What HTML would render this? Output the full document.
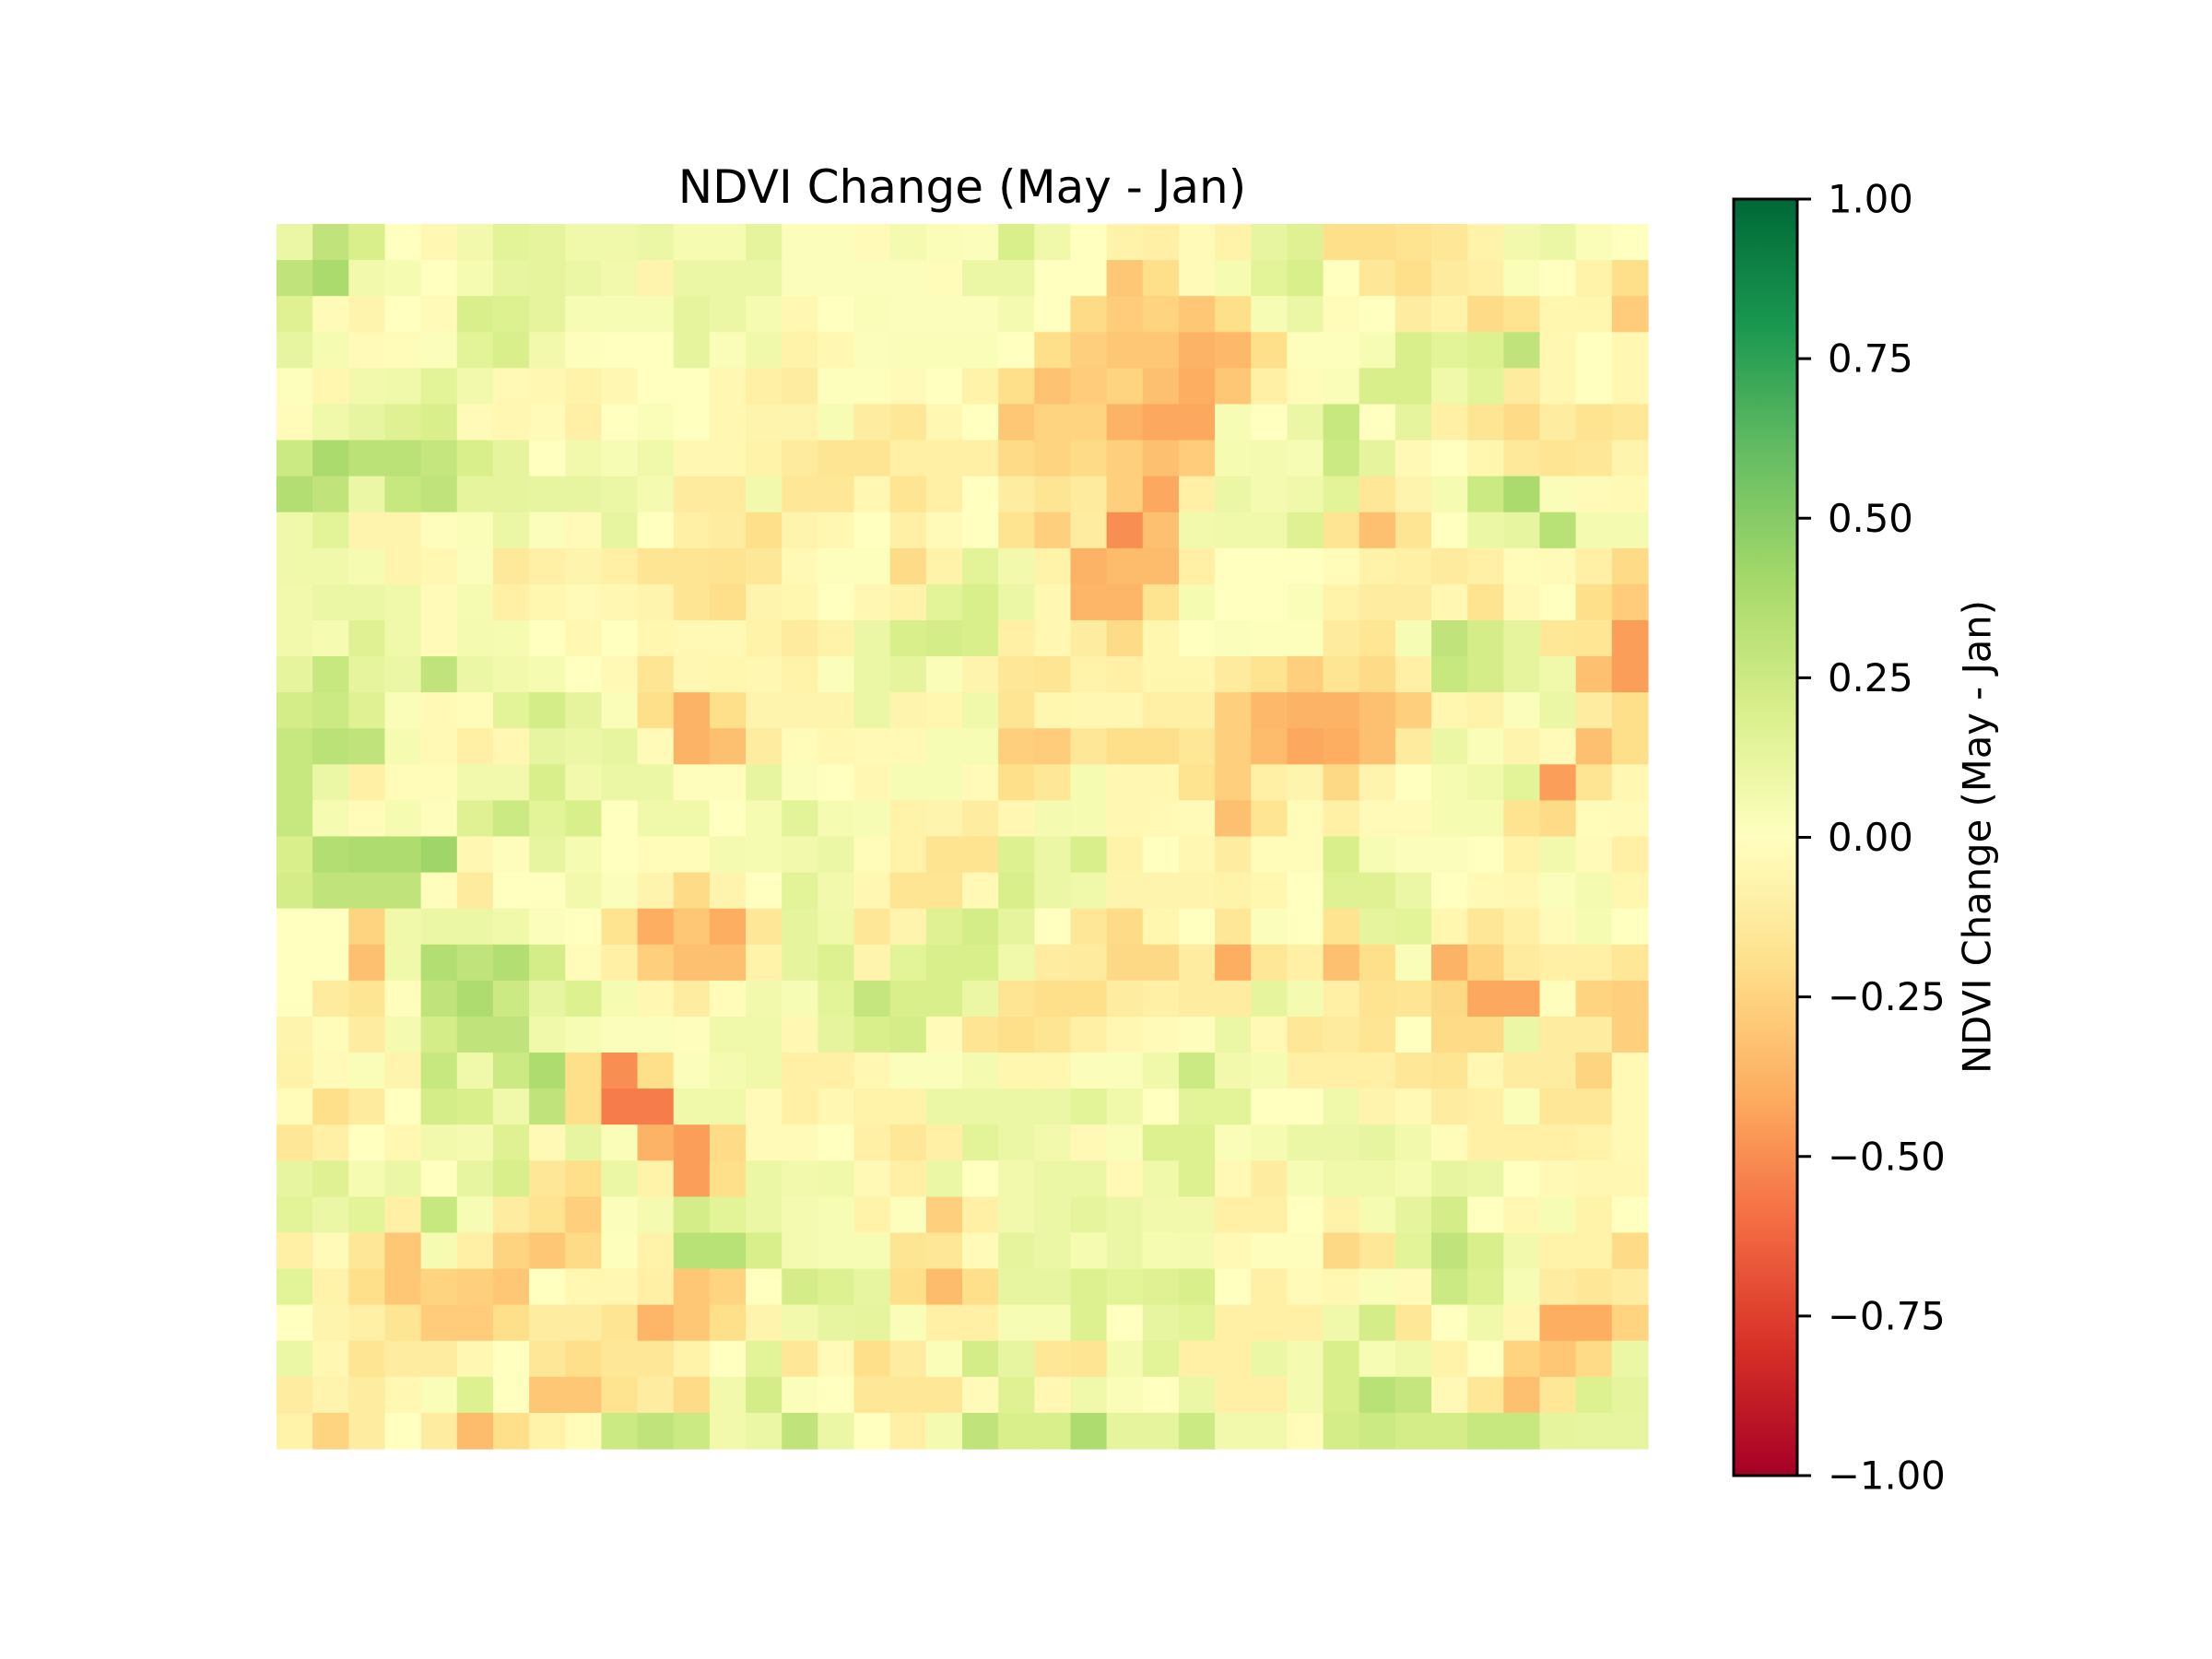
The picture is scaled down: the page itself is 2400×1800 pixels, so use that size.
<!DOCTYPE html>
<html><head><meta charset="utf-8"><style>
html,body{margin:0;padding:0;background:#fff;}
svg{display:block;font-family:"DejaVu Sans","Liberation Sans",sans-serif;}
</style></head><body>
<svg id="chart" width="2400" height="1800" viewBox="0 0 2400 1800" xmlns="http://www.w3.org/2000/svg">
<rect width="2400" height="1800" fill="#fff"/>
<text x="1044" y="220" font-size="50" text-anchor="middle" fill="#000">NDVI Change (May - Jan)</text>
<g id="heatmap"></g>
<defs>
<linearGradient id="rdylgn" x1="0" y1="1" x2="0" y2="0">
<stop offset="0" stop-color="#a50026"/><stop offset="0.1" stop-color="#d73027"/><stop offset="0.2" stop-color="#f46d43"/><stop offset="0.3" stop-color="#fdae61"/><stop offset="0.4" stop-color="#fee08b"/><stop offset="0.5" stop-color="#ffffbf"/><stop offset="0.6" stop-color="#d9ef8b"/><stop offset="0.7" stop-color="#a6d96a"/><stop offset="0.8" stop-color="#66bd63"/><stop offset="0.9" stop-color="#1a9850"/><stop offset="1" stop-color="#006837"/>
</linearGradient>
</defs>
<rect x="1881" y="216" width="69" height="1385" fill="url(#rdylgn)" stroke="#000" stroke-width="3"/>
<g id="cbticks"></g>
<text transform="translate(2145,908) rotate(-90)" font-size="41.7" text-anchor="middle" dominant-baseline="central" fill="#000">NDVI Change (May - Jan)</text>
</svg>
<script>
const tickValues = [1.0, 0.75, 0.5, 0.25, 0.0, -0.25, -0.5, -0.75, -1.0];
const tickLabels = ["1.00", "0.75", "0.50", "0.25", "0.00", "\u22120.25", "\u22120.50", "\u22120.75", "\u22121.00"];
const row00 = [0.1,0.3,0.2,0.0,-0.05,0.07,0.15,0.13,0.08,0.08,0.1,0.05,0.05,0.13,0.02,0.02,-0.03,0.06,0.03,0.02,0.2,0.08,0.0,-0.08,-0.1,-0.03,-0.08,0.12,0.17,-0.2,-0.2,-0.18,-0.15,-0.08,0.07,0.1,0.03,0.0];
const row01 = [0.3,0.38,0.07,0.05,0.0,0.05,0.12,0.13,0.1,0.07,-0.07,0.1,0.1,0.1,0.02,0.02,0.02,0.02,-0.02,0.1,0.1,0.0,0.0,-0.3,-0.2,-0.03,0.05,0.15,0.2,0.0,-0.15,-0.2,-0.13,-0.1,0.03,0.0,-0.08,-0.2];
const row02 = [0.17,-0.03,-0.07,0.0,-0.03,0.2,0.18,0.13,0.04,0.04,0.04,0.13,0.1,0.05,-0.05,0.0,0.03,0.02,0.02,0.02,0.06,0.0,-0.22,-0.28,-0.25,-0.3,-0.2,0.04,0.1,-0.02,0.0,-0.12,-0.08,-0.22,-0.18,-0.06,-0.06,-0.28];
const row03 = [0.12,0.05,-0.03,-0.02,0.02,0.15,0.2,0.07,0.01,0.0,0.0,0.13,0.03,0.08,-0.08,-0.05,0.02,0.03,0.03,0.03,0.0,-0.2,-0.27,-0.3,-0.3,-0.38,-0.36,-0.2,0.01,0.01,0.04,0.2,0.15,0.18,0.3,-0.05,0.0,-0.05];
const row04 = [0.01,-0.06,0.07,0.08,0.15,0.07,-0.04,-0.05,-0.08,-0.05,0.0,0.0,-0.05,-0.1,-0.12,0.01,0.01,-0.03,0.0,-0.08,-0.2,-0.32,-0.28,-0.25,-0.33,-0.4,-0.3,-0.1,-0.02,0.03,0.2,0.2,0.08,0.15,-0.13,-0.05,0.0,-0.05];
const row05 = [-0.02,0.08,0.12,0.17,0.2,-0.03,-0.05,-0.03,-0.1,0.0,0.03,0.0,-0.05,-0.07,-0.07,0.04,-0.12,-0.15,-0.05,0.0,-0.3,-0.25,-0.25,-0.38,-0.42,-0.42,0.04,0.0,0.1,0.27,0.0,0.13,-0.1,-0.17,-0.22,-0.12,-0.18,-0.15];
const row06 = [0.25,0.38,0.32,0.32,0.28,0.2,0.13,0.0,0.07,0.04,0.08,-0.05,-0.05,-0.08,-0.13,-0.17,-0.17,-0.1,-0.1,-0.1,-0.22,-0.25,-0.22,-0.27,-0.33,-0.28,0.05,0.06,0.04,0.25,0.13,-0.04,0.0,-0.06,-0.14,-0.17,-0.15,-0.07];
const row07 = [0.35,0.3,0.1,0.27,0.3,0.13,0.13,0.12,0.12,0.1,0.06,-0.13,-0.13,0.07,-0.15,-0.15,-0.05,-0.17,-0.1,0.0,-0.12,-0.17,-0.13,-0.27,-0.42,-0.1,0.1,0.06,0.08,0.15,-0.15,-0.07,0.05,0.25,0.38,0.03,-0.03,-0.04];
const row08 = [0.08,0.15,-0.07,-0.07,-0.01,0.03,0.1,0.02,-0.03,0.12,0.0,-0.1,-0.12,-0.2,-0.07,-0.05,0.0,-0.1,-0.03,0.0,-0.18,-0.27,-0.12,-0.5,-0.33,0.07,0.08,0.08,0.17,-0.17,-0.33,-0.17,0.0,0.1,0.12,0.33,0.06,0.06];
const row09 = [0.08,0.08,0.05,-0.07,-0.05,0.02,-0.14,-0.1,-0.07,-0.1,-0.17,-0.17,-0.18,-0.15,-0.04,0.01,0.01,-0.22,-0.08,0.15,0.07,-0.08,-0.38,-0.35,-0.35,-0.1,0.0,0.0,0.0,-0.02,-0.08,-0.1,-0.13,-0.1,-0.02,-0.03,-0.1,-0.22];
const row10 = [0.07,0.1,0.1,0.08,-0.03,0.05,-0.1,-0.06,-0.03,-0.05,-0.07,-0.17,-0.2,-0.07,-0.06,0.0,-0.05,-0.08,0.15,0.2,0.1,-0.05,-0.37,-0.37,-0.18,0.05,0.0,0.0,0.03,-0.08,-0.12,-0.12,-0.05,-0.18,-0.04,0.0,-0.2,-0.28];
const row11 = [0.07,0.05,0.17,0.08,-0.03,0.06,0.05,0.0,-0.05,0.0,-0.06,-0.04,-0.04,-0.08,-0.13,-0.08,0.1,0.2,0.22,0.2,-0.1,-0.05,-0.12,-0.22,-0.06,0.0,0.02,0.01,0.01,-0.13,-0.16,0.04,0.3,0.22,0.13,-0.15,-0.16,-0.45];
const row12 = [0.13,0.27,0.13,0.1,0.3,0.1,0.07,0.05,0.0,-0.04,-0.17,-0.05,-0.06,-0.05,-0.08,0.02,0.1,0.13,0.03,-0.07,-0.15,-0.17,-0.08,-0.1,-0.06,-0.06,-0.13,-0.18,-0.27,-0.17,-0.22,-0.1,0.27,0.22,0.13,0.08,-0.33,-0.45];
const row13 = [0.22,0.25,0.17,0.03,-0.04,-0.02,0.15,0.22,0.13,0.03,-0.2,-0.38,-0.2,-0.07,-0.07,-0.07,0.1,-0.07,-0.06,0.08,-0.17,-0.06,-0.05,-0.05,-0.1,-0.1,-0.27,-0.36,-0.38,-0.38,-0.33,-0.27,-0.06,-0.08,0.02,0.1,-0.12,-0.2];
const row14 = [0.27,0.32,0.3,0.05,-0.04,-0.1,-0.05,0.12,0.1,0.12,-0.03,-0.38,-0.33,-0.12,-0.02,-0.05,-0.04,-0.04,0.04,0.04,-0.27,-0.28,-0.15,-0.2,-0.2,-0.15,-0.27,-0.35,-0.42,-0.4,-0.33,-0.13,0.1,0.03,-0.07,-0.03,-0.33,-0.2];
const row15 = [0.27,0.1,-0.1,-0.02,-0.02,0.07,0.07,0.2,0.07,0.1,0.1,-0.01,-0.01,0.12,0.02,0.0,-0.05,0.04,0.04,-0.03,-0.2,-0.15,0.05,-0.05,-0.05,-0.18,-0.27,-0.1,-0.07,-0.23,-0.07,0.0,0.05,0.08,0.15,-0.45,-0.17,-0.05];
const row16 = [0.27,0.05,-0.02,0.05,-0.01,0.17,0.25,0.15,0.2,0.0,0.08,0.08,0.0,0.05,0.15,0.05,0.04,-0.08,-0.07,-0.12,-0.05,0.06,0.05,-0.05,-0.04,-0.03,-0.33,-0.17,-0.02,-0.1,-0.03,-0.03,0.05,0.05,-0.18,-0.22,-0.02,-0.03];
const row17 = [0.2,0.35,0.37,0.37,0.42,-0.05,-0.01,0.12,0.05,0.0,-0.02,-0.02,0.06,0.05,0.07,0.1,-0.02,-0.08,-0.18,-0.18,0.18,0.1,0.2,-0.08,0.0,-0.05,-0.12,-0.02,-0.02,0.2,0.04,0.02,0.02,0.0,-0.08,0.07,-0.03,-0.1];
const row18 = [0.22,0.3,0.3,0.3,-0.01,-0.13,0.0,0.0,0.07,0.02,-0.07,-0.22,-0.07,0.0,0.15,0.07,-0.05,-0.17,-0.17,-0.04,0.2,0.1,0.08,-0.07,-0.07,-0.07,-0.08,-0.06,0.0,0.17,0.17,0.1,0.0,-0.04,-0.05,0.02,0.06,-0.06];
const row19 = [0.0,0.0,-0.25,0.08,0.1,0.1,0.08,0.02,0.0,-0.18,-0.4,-0.3,-0.4,-0.15,0.13,0.08,-0.15,-0.07,0.17,0.22,0.13,0.0,-0.15,-0.22,-0.06,0.0,-0.15,0.02,0.0,-0.18,0.13,0.15,-0.06,-0.15,-0.1,-0.03,0.05,0.0];
const row20 = [0.0,0.0,-0.33,0.08,0.35,0.3,0.35,0.22,-0.02,-0.1,-0.27,-0.33,-0.33,-0.08,0.13,0.18,-0.07,0.15,0.2,0.2,0.08,-0.12,-0.13,-0.23,-0.23,-0.12,-0.4,-0.15,-0.1,-0.33,-0.2,0.03,-0.38,-0.25,-0.13,-0.1,-0.1,-0.15];
const row21 = [0.0,-0.13,-0.17,-0.01,0.3,0.37,0.25,0.12,0.18,0.05,-0.05,-0.12,-0.02,0.07,0.04,0.15,0.28,0.2,0.2,0.1,-0.17,-0.2,-0.2,-0.12,-0.1,-0.12,-0.12,0.13,0.06,-0.1,-0.18,-0.17,-0.23,-0.42,-0.42,-0.01,-0.25,-0.27];
const row22 = [-0.07,-0.02,-0.12,0.06,0.22,0.3,0.3,0.08,0.04,0.02,0.02,-0.01,0.08,0.08,-0.05,0.13,0.2,0.22,-0.03,-0.17,-0.2,-0.17,-0.1,-0.05,-0.03,-0.01,0.1,-0.04,-0.15,-0.13,-0.17,0.0,-0.22,-0.22,0.1,-0.12,-0.12,-0.27];
const row23 = [-0.08,-0.03,0.03,-0.07,0.27,0.08,0.25,0.37,-0.2,-0.5,-0.2,0.02,0.06,0.08,-0.1,-0.1,-0.05,0.02,0.02,0.06,-0.06,-0.06,0.02,0.02,0.08,0.25,0.07,0.05,-0.1,-0.1,-0.1,-0.15,-0.17,-0.05,-0.12,-0.12,-0.25,-0.04];
const row24 = [-0.02,-0.2,-0.13,0.0,0.22,0.2,0.08,0.3,-0.2,-0.55,-0.55,0.08,0.08,-0.03,-0.1,-0.05,-0.08,-0.08,0.1,0.1,0.1,0.1,0.15,0.08,0.0,0.15,0.15,0.0,0.0,0.08,-0.07,-0.04,-0.12,-0.1,0.03,-0.15,-0.15,-0.04];
const row25 = [-0.15,-0.1,0.0,-0.05,0.07,0.06,0.17,-0.04,0.12,0.03,-0.38,-0.45,-0.22,-0.03,-0.03,0.0,-0.1,-0.15,-0.1,0.15,0.1,0.07,-0.04,0.03,0.18,0.18,0.03,0.05,0.1,0.1,0.12,0.07,-0.02,-0.1,-0.1,-0.1,-0.08,-0.04];
const row26 = [0.12,0.17,0.05,0.1,0.0,0.12,0.2,-0.15,-0.2,0.1,-0.08,-0.45,-0.2,0.1,0.07,0.08,-0.04,-0.1,0.1,0.0,0.07,0.1,0.1,-0.04,0.08,0.18,-0.04,-0.12,0.04,0.08,0.08,0.05,0.12,0.1,0.0,-0.04,-0.05,-0.05];
const row27 = [0.15,0.1,0.15,-0.1,0.27,0.04,-0.12,-0.18,-0.27,0.02,0.06,0.22,0.15,0.1,0.06,0.04,-0.08,0.01,-0.27,-0.1,0.07,0.1,0.13,0.1,0.07,0.07,-0.1,-0.1,0.0,-0.08,0.05,0.13,0.22,0.0,-0.05,0.04,-0.08,0.0];
const row28 = [-0.1,-0.03,-0.15,-0.3,0.05,-0.1,-0.25,-0.3,-0.22,0.01,-0.08,0.33,0.33,0.2,0.06,0.04,0.04,-0.17,-0.15,-0.03,0.13,0.1,0.05,0.1,0.05,0.06,-0.04,-0.01,-0.01,-0.23,-0.15,0.15,0.3,0.2,0.07,-0.08,-0.08,-0.22];
const row29 = [0.15,-0.08,-0.2,-0.3,-0.25,-0.27,-0.3,0.0,-0.05,-0.05,-0.1,-0.3,-0.25,0.0,0.22,0.18,0.12,-0.2,-0.35,-0.2,0.12,0.12,0.18,0.15,0.17,0.2,0.0,-0.1,-0.03,-0.05,0.03,-0.03,0.25,0.18,0.04,-0.12,-0.15,-0.12];
const row30 = [0.0,-0.07,-0.1,-0.17,-0.28,-0.28,-0.2,-0.12,-0.12,-0.17,-0.37,-0.3,-0.2,-0.07,0.07,0.12,0.13,0.03,-0.1,-0.1,0.04,0.04,0.18,0.0,0.12,0.15,-0.1,-0.1,-0.1,0.08,0.22,-0.15,0.0,0.08,-0.05,-0.4,-0.4,-0.25];
const row31 = [0.1,-0.05,-0.17,-0.12,-0.12,-0.05,0.0,-0.15,-0.2,-0.15,-0.15,-0.08,0.0,0.15,-0.15,-0.03,-0.2,-0.12,0.03,0.22,0.12,-0.15,-0.17,0.06,0.15,-0.1,-0.1,0.1,0.06,0.2,0.04,0.08,-0.08,0.0,-0.25,-0.3,-0.22,0.1];
const row32 = [-0.12,-0.07,-0.12,-0.05,0.03,0.18,0.0,-0.3,-0.3,-0.18,-0.12,-0.22,0.07,0.22,0.02,0.0,-0.15,-0.15,-0.15,-0.03,0.17,-0.05,0.08,0.03,0.0,0.1,-0.1,-0.1,0.06,0.2,0.33,0.28,-0.04,-0.15,-0.33,-0.15,0.18,0.13];
const row33 = [-0.08,-0.25,-0.12,0.0,-0.12,-0.35,-0.2,-0.08,-0.02,0.25,0.3,0.25,0.07,0.1,0.3,0.1,0.0,-0.1,0.06,0.3,0.2,0.2,0.37,0.13,0.13,0.25,0.07,0.07,-0.02,0.22,0.25,0.22,0.22,0.27,0.27,0.13,0.12,0.12];

const grid = [row00,row01,row02,row03,row04,row05,row06,row07,row08,row09,row10,row11,row12,row13,row14,row15,row16,row17,row18,row19,row20,row21,row22,row23,row24,row25,row26,row27,row28,row29,row30,row31,row32,row33];

const NS = "http://www.w3.org/2000/svg";
const X0 = 300, X1 = 1788, Y0 = 243, Y1 = 1572;
const nRows = grid.length, nCols = grid[0].length;
const cw = (X1 - X0) / nCols, ch = (Y1 - Y0) / nRows;
function xPos(c) { return X0 + c * cw; }
function yPos(r) { return Y0 + r * ch; }
const CB_TOP = 216, CB_BOT = 1601;
function cbY(v) { return CB_BOT - (v + 1) / 2 * (CB_BOT - CB_TOP); }

const stops = [[165,0,38],[215,48,39],[244,109,67],[253,174,97],[254,224,139],[255,255,191],[217,239,139],[166,217,106],[102,189,99],[26,152,80],[0,104,55]];
function color(v) {
  let t = (Math.max(-1, Math.min(1, v)) + 1) / 2 * 10;
  let i = Math.min(9, Math.floor(t)), f = t - i;
  const a = stops[i], b = stops[i + 1];
  return "rgb(" + [0,1,2].map(k => Math.round(a[k] + (b[k] - a[k]) * f)).join(",") + ")";
}

const hm = document.getElementById("heatmap");
for (let r = 0; r < nRows; r++) {
  for (let c = 0; c < nCols; c++) {
    const rect = document.createElementNS(NS, "rect");
    rect.setAttribute("x", xPos(c));
    rect.setAttribute("y", yPos(r));
    rect.setAttribute("width", cw + 0.6);
    rect.setAttribute("height", ch + 0.6);
    rect.setAttribute("fill", color(grid[r][c]));
    
    
    hm.appendChild(rect);
  }
}

const tg = document.getElementById("cbticks");
tickValues.forEach((v, i) => {
  const y = cbY(v);
  const ln = document.createElementNS(NS, "line");
  ln.setAttribute("x1", 1950); ln.setAttribute("x2", 1965);
  ln.setAttribute("y1", y); ln.setAttribute("y2", y);
  ln.setAttribute("stroke", "#000"); ln.setAttribute("stroke-width", "3");
  
  
  tg.appendChild(ln);
  const tx = document.createElementNS(NS, "text");
  tx.setAttribute("x", 1983); tx.setAttribute("y", y);
  tx.setAttribute("font-size", "41.7");
  tx.setAttribute("dominant-baseline", "central");
  tx.setAttribute("fill", "#000");
  tx.textContent = tickLabels[i];
  
  
  tg.appendChild(tx);
});
</script>
</body></html>
